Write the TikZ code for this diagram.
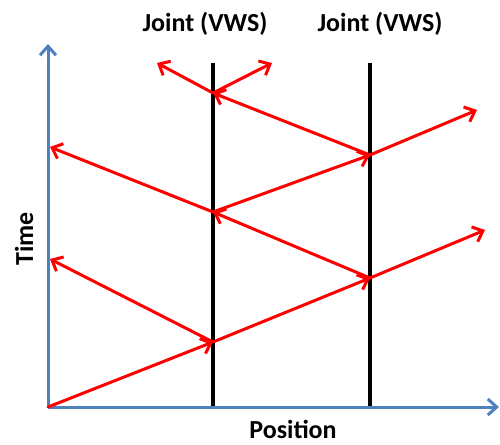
\documentclass[tikz,border=0pt]{standalone}
\usepackage{fontspec}
\setmainfont{Carlito}
\usetikzlibrary{arrows.meta}
\definecolor{axisblue}{RGB}{79,129,189}
\definecolor{wavered}{RGB}{255,0,0}
\tikzset{
  axisline/.style={draw=axisblue,line width=3pt,-{Straight Barb[length=9pt,width=16pt,line width=3pt]}},
  jointline/.style={draw=black,line width=4pt},
  wave/.style={draw=wavered,line width=3pt,line cap=round,-{Straight Barb[length=9pt,width=16pt,line width=3pt]}},
  lbl/.style={font=\fontsize{26}{30}\selectfont\bfseries,inner sep=0pt}
}
\begin{document}
\begin{tikzpicture}[x=1pt,y=-1pt]
\useasboundingbox (0,0) rectangle (500,444);
% coordinates
\coordinate (O) at (48,407);
\coordinate (Ytop) at (48,44);
\coordinate (Xend) at (499,407);
\coordinate (J1t) at (213,63);
\coordinate (J1b) at (213,407);
\coordinate (J2t) at (370,63);
\coordinate (J2b) at (370,407);
\coordinate (A1) at (213,342);
\coordinate (B1) at (370,278);
\coordinate (R1) at (485,230);
\coordinate (L1) at (50,259);
\coordinate (A2) at (213,212);
\coordinate (L2) at (50,147);
\coordinate (B2) at (370,155);
\coordinate (R2) at (477,110);
\coordinate (A3) at (213,93);
\coordinate (U1) at (157,63);
\coordinate (U2) at (272,63);
% joints
\draw[jointline] (J1t) -- (J1b);
\draw[jointline] (J2t) -- (J2b);
% axes
\draw[axisline] (O) -- (Ytop);
\draw[axisline] (O) -- (Xend);
% waves
\draw[wave] (O) -- (A1);
\draw[wave] (A1) -- (B1);
\draw[wave] (B1) -- (R1);
\draw[wave] (A1) -- (L1);
\draw[wave] (B1) -- (A2);
\draw[wave] (A2) -- (L2);
\draw[wave] (A2) -- (B2);
\draw[wave] (B2) -- (R2);
\draw[wave] (B2) -- (A3);
\draw[wave] (A3) -- (U1);
\draw[wave] (A3) -- (U2);
% labels
\node[lbl,anchor=base] (j1lbl) at (205,32) {Joint (VWS)};
\node[lbl,anchor=base] (j2lbl) at (380,32) {Joint (VWS)};
\node[lbl,anchor=base] (poslbl) at (293,438) {Position};
\node[lbl,anchor=base,rotate=90] (timelbl) at (33,239) {Time};
\end{tikzpicture}
\end{document}
